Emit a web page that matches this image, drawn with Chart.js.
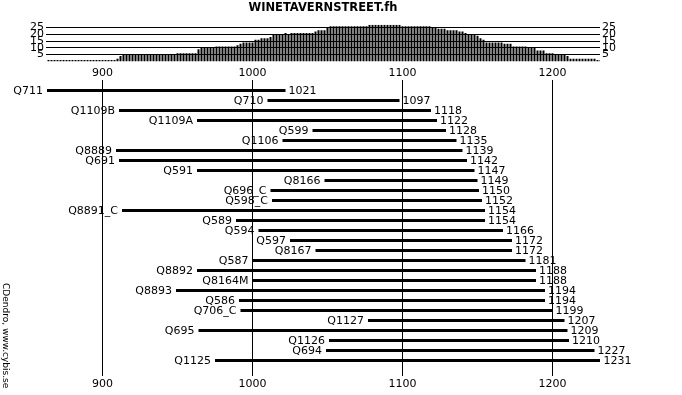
<!DOCTYPE html>
<html>
<head>
<meta charset="utf-8">
<script src="https://cdn.jsdelivr.net/npm/chart.js@4.4.1/dist/chart.umd.min.js"></script>
<style>
  body { margin: 0; background: #fff; }
  #wrap { position: relative; width: 682px; height: 395px; }
  #wrap canvas { position: absolute; left: 0; top: 0; }
</style>
</head>
<body>
<div id="wrap">
  <canvas id="fhchart" width="682" height="395"></canvas>
  <canvas id="depthchart" width="682" height="70"></canvas>
</div>
<script>
// samples, top to bottom
var names = ['Q711','Q710','Q1109B','Q1109A','Q599','Q1106','Q8889','Q691','Q591','Q8166',
  'Q696_C','Q598_C','Q8891_C','Q589','Q594','Q597','Q8167','Q587','Q8892','Q8164M',
  'Q8893','Q586','Q706_C','Q1127','Q695','Q1126','Q694','Q1125'];
var starts = [863,1010,911,963,1040,1020,909,911,963,1048,
  1012,1013,913,989,1004,1025,1042,1000,963,1000,
  949,991,992,1077,964,1051,1049,975];
var ends = [1021,1097,1118,1122,1128,1135,1139,1142,1147,1149,
  1150,1152,1154,1154,1166,1172,1172,1181,1188,1188,
  1194,1194,1199,1207,1209,1210,1227,1231];

// sample depth (top histogram), as steps: from year -> count
var depthYears = [863,909,911,913,949,963,964,975,989,991,992,1000,1004,1010,1012,1013,1020,1022,1025,1040,
  1042,1048,1049,1051,1077,1098,1119,1123,1129,1136,1140,1143,1148,1150,1151,1153,1155,1167,1173,1182,
  1189,1195,1200,1208,1210,1211,1228,1232];
var depthCounts = [1,2,4,5,6,9,10,11,12,13,14,16,17,18,19,20,21,20,21,22,
  23,24,25,26,27,26,25,24,23,22,21,20,19,18,17,16,14,13,11,10,
  8,6,5,4,3,2,1,0];

var yearTicks = [900,1000,1100,1200];
var depthTicks = [5,10,15,20,25];

var xMin = 862.33, xMax = 1231.67;
var FONT = 'DejaVu Sans';

function depthAt(year){
  var c = 0;
  for (var k = 0; k < depthYears.length; k++) {
    if (year >= depthYears[k]) c = depthCounts[k];
  }
  return c;
}

var depthBins = [];
for (var yr = 863; yr < 1232; yr += 2) {
  depthBins.push({x: yr + 1, y: depthAt(yr)});
}

var sampleLabels = {
  id: 'sampleLabels',
  afterDatasetsDraw: function(chart){
    var c = chart.ctx;
    var bars = chart.getDatasetMeta(0).data;
    c.save();
    c.fillStyle = '#000';
    c.font = '11px "' + FONT + '"';
    c.textBaseline = 'alphabetic';
    bars.forEach(function(b, i){
      c.textAlign = 'right';
      c.fillText(names[i], b.base - 4, b.y + 3);
      c.textAlign = 'left';
      c.fillText(String(ends[i]), b.x + 3, b.y + 3);
    });
    // side credit
    c.font = '9px "' + FONT + '"';
    c.translate(3, 283);
    c.rotate(Math.PI / 2);
    c.textAlign = 'left';
    c.fillText('CDendro, www.cybis.se', 0, 0);
    c.restore();
  }
};

var tickFont = {family: FONT, size: 11};
function plain(v){ return String(v); }

var fhchart = new Chart(document.getElementById('fhchart'), {
  type: 'bar',
  data: {
    datasets: [{
      data: names.map(function(n, i){ return {x: [starts[i], ends[i] + 1], y: i}; }),
      backgroundColor: '#000',
      barThickness: 3,
      inflateAmount: 0
    }]
  },
  options: {
    indexAxis: 'y',
    responsive: false,
    animation: false,
    layout: {padding: {left: 46, right: 82, top: 67, bottom: 5}},
    scales: {
      x: {
        type: 'linear', position: 'top', min: xMin, max: xMax,
        afterBuildTicks: function(s){ s.ticks = yearTicks.map(function(v){ return {value: v}; }); },
        afterFit: function(s){ s.height = 13; },
        grid: {color: '#000', lineWidth: 1, drawTicks: false},
        border: {display: false},
        ticks: {color: '#000', font: tickFont, padding: 0, maxRotation: 0, callback: plain}
      },
      x2: {
        type: 'linear', axis: 'x', position: 'bottom', min: xMin, max: xMax,
        afterBuildTicks: function(s){ s.ticks = yearTicks.map(function(v){ return {value: v}; }); },
        afterFit: function(s){ s.height = 14; },
        grid: {display: false, drawTicks: false},
        border: {display: false},
        ticks: {color: '#000', font: tickFont, padding: 2, maxRotation: 0, callback: plain}
      },
      y: {type: 'linear', display: false, offset: false, reverse: true, min: -1.05, max: 28.55}
    },
    plugins: {legend: {display: false}, tooltip: {enabled: false}}
  },
  plugins: [sampleLabels]
});

var depthchart = new Chart(document.getElementById('depthchart'), {
  type: 'bar',
  data: {
    datasets: [{data: depthBins, backgroundColor: '#000', barThickness: 2, inflateAmount: 0}]
  },
  options: {
    responsive: false,
    animation: false,
    layout: {padding: {left: 28, right: 64, top: 0, bottom: 5}},
    scales: {
      x: {type: 'linear', min: xMin, max: xMax, offset: false, display: false},
      y: {
        min: 0, max: 27, position: 'left',
        afterBuildTicks: function(s){ s.ticks = depthTicks.map(function(v){ return {value: v}; }); },
        afterFit: function(s){ s.width = 18; },
        grid: {color: '#000', lineWidth: 1, drawTicks: false},
        border: {display: false},
        ticks: {color: '#000', font: tickFont, padding: 2, autoSkip: false}
      },
      y2: {
        axis: 'y', min: 0, max: 27, position: 'right',
        afterBuildTicks: function(s){ s.ticks = depthTicks.map(function(v){ return {value: v}; }); },
        afterFit: function(s){ s.width = 18; },
        grid: {display: false, drawTicks: false},
        border: {display: false},
        ticks: {color: '#000', font: tickFont, padding: 2, autoSkip: false}
      }
    },
    plugins: {
      legend: {display: false},
      tooltip: {enabled: false},
      title: {
        display: true, fullSize: false,
        text: 'WINETAVERNSTREET.fh',
        color: '#000',
        font: {family: FONT, size: 11.5, weight: 'bold'},
        padding: {top: 1, bottom: 10}
      }
    }
  }
});
</script>
</body>
</html>
